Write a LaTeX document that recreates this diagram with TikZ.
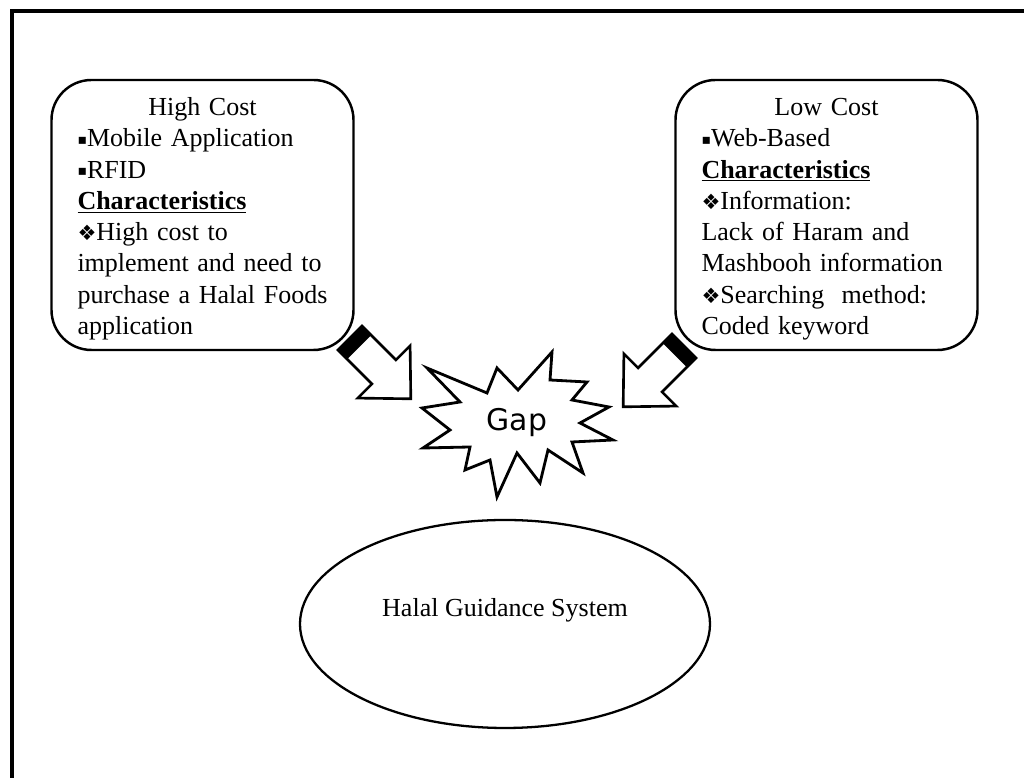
\documentclass[tikz,border=0pt]{standalone}
\usepackage{fontspec}
\setmainfont{Liberation Serif}
\newfontfamily\symfont{DejaVu Sans}
\usetikzlibrary{shapes.geometric}

\newcommand{\sqbul}{{\symfont\fontsize{8}{8}\selectfont\raisebox{1.5pt}{▪}}}
\newcommand{\dmbul}{{\symfont\fontsize{12}{12}\selectfont ❖}}

\tikzset{
	costbox/.style = {draw, line width = 1.4pt, rounded corners = 0.8cm, minimum width = 6.04cm, minimum height = 5.4cm, text width = 5cm, align = left, inner sep = 0pt, font = \fontsize{14.8}{17.8}\selectfont},
	blockarrow/.pic = {
		\draw[line width = 1.5pt, line join = miter, fill = white] (0, 0.34) -- (0.96, 0.34) -- (0.96, 0.74) -- (1.72, 0) -- (0.96, -0.74) -- (0.96, -0.34) -- (0, -0.34) -- cycle;
		\fill (0, 0.36) rectangle (0.26, -0.36);
	}
}

\begin{document}
\begin{tikzpicture}
	
	\useasboundingbox (0, 0) rectangle (20.48, 15.56);
	\draw[line width = 1.9pt] (0.24, 0) -- (0.24, 15.34) -- (20.48, 15.34);
	
	\node[costbox] (high) at (4.05, 11.26) {\rule{0pt}{0.51cm}\hfill High Cost\hfill\null\\
		\sqbul Mobile Application\\
		\sqbul RFID\\
		\underline{\textbf{Characteristics}}\\
		\dmbul High cost to\\
		implement and need to\\
		purchase a Halal Foods\\
		application};
	\node[costbox] (low) at (16.53, 11.26) {\rule{0pt}{0.51cm}\hfill Low Cost\hfill\null\\
		\sqbul Web-Based\\
		\underline{\textbf{Characteristics}}\\
		\dmbul Information:\\
		Lack of Haram and\\
		Mashbooh information\\
		\dmbul Searching\ \ method:\\
		Coded keyword};
	
	\node[font = \symfont\fontsize{17}{20}\selectfont] (gap) at (10.34, 7.10) {Gap};
	\draw[line width = 1.6pt, line join = miter, shift = {(gap.center)}]
		(-1.80, 1.10) -- (-0.60, 0.60) -- (-0.40, 1.10) -- (0.02, 0.66) -- (0.70, 1.42) -- (0.66, 0.86)
		-- (1.40, 0.82) -- (1.10, 0.46) -- (1.84, 0.32) -- (1.26, 0.00) -- (1.92, -0.34) -- (1.10, -0.38)
		-- (1.32, -1.00) -- (0.62, -0.54) -- (0.46, -1.20) -- (0.00, -0.60) -- (-0.40, -1.48) -- (-0.54, -0.74)
		-- (-1.04, -0.94) -- (-0.94, -0.48) -- (-1.88, -0.50) -- (-1.34, -0.14) -- (-1.90, 0.30) -- (-1.14, 0.42) -- cycle;
	
	\node[draw, ellipse, line width = 1.3pt, minimum width = 8.2cm, minimum height = 4.16cm, font = \fontsize{14.8}{17.8}\selectfont] (hgs) at (10.10, 3.08) {\raisebox{0.28cm}[\height][\depth]{Halal Guidance System}};
	
	\pic[rotate = -45] at (7.00, 8.80) {blockarrow};
	\pic[rotate = -135] at (13.68, 8.64) {blockarrow};
	
\end{tikzpicture}
\end{document}
